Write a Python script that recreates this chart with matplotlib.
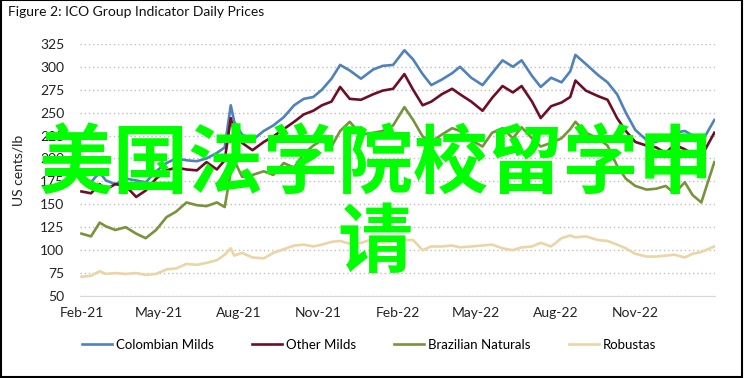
import pandas as pd
import matplotlib
matplotlib.use('Agg')
import matplotlib.pyplot as plt
import matplotlib.dates as mdates
from matplotlib.patches import Rectangle

dates = pd.to_datetime([
    '2021-02-01', '2021-02-12', '2021-02-22', '2021-03-01', '2021-03-12', '2021-03-24',
    '2021-04-05', '2021-04-16', '2021-04-28', '2021-05-10', '2021-05-21', '2021-06-02',
    '2021-06-14', '2021-06-25', '2021-07-07', '2021-07-16', '2021-07-23', '2021-07-27',
    '2021-08-05', '2021-08-17', '2021-08-30', '2021-09-10', '2021-09-22', '2021-10-04',
    '2021-10-15', '2021-10-26', '2021-11-05', '2021-11-16', '2021-11-26', '2021-12-07',
    '2021-12-20', '2022-01-03', '2022-01-14', '2022-01-26', '2022-02-08', '2022-02-18',
    '2022-03-01', '2022-03-11', '2022-03-23', '2022-04-04', '2022-04-13', '2022-04-26',
    '2022-05-09', '2022-05-20', '2022-06-01', '2022-06-13', '2022-06-23', '2022-07-05',
    '2022-07-15', '2022-07-27', '2022-08-08', '2022-08-18', '2022-08-24', '2022-09-05',
    '2022-09-19', '2022-09-30', '2022-10-11', '2022-10-21', '2022-11-01', '2022-11-14',
    '2022-11-25', '2022-12-06', '2022-12-16', '2022-12-28', '2023-01-06', '2023-01-16',
    '2023-01-31'])

colombian = [175, 174, 185, 176, 172, 178, 176, 174, 186, 195, 200, 198,
             197, 200, 206, 212, 258, 240, 226, 220, 230, 236, 245, 258,
             265, 267, 275, 287, 302, 296, 287, 297, 301, 302, 318, 308,
             292, 280, 286, 293, 300, 288, 280, 293, 307, 300, 307, 290,
             278, 288, 283, 295, 313, 303, 291, 283, 270, 250, 231, 220,
             218, 223, 228, 230, 225, 217, 242]

other_milds = [164, 162, 172, 166, 172, 170, 158, 165, 178, 187, 190, 188,
               187, 196, 188, 198, 244, 228, 217, 209, 218, 224, 232, 240,
               248, 252, 258, 262, 278, 265, 264, 270, 274, 276, 292, 275,
               258, 262, 270, 276, 270, 262, 252, 266, 279, 272, 279, 262,
               244, 257, 261, 267, 285, 274, 268, 264, 244, 230, 218, 214,
               212, 206, 215, 210, 205, 202, 228]

brazilian = [118, 115, 130, 126, 122, 125, 118, 113, 122, 136, 142, 152,
             149, 148, 152, 147, 185, 198, 180, 182, 186, 182, 195, 190,
             205, 214, 220, 213, 230, 240, 226, 228, 230, 236, 256, 242,
             224, 218, 226, 233, 230, 220, 213, 228, 233, 222, 234, 222,
             213, 217, 222, 232, 240, 228, 222, 214, 192, 178, 170, 166,
             167, 170, 162, 174, 160, 152, 196]

robustas = [71, 72, 77, 74, 75, 74, 75, 73, 74, 79, 80, 85,
            84, 86, 89, 95, 102, 94, 97, 92, 91, 97, 101, 105,
            106, 104, 106, 109, 110, 107, 108, 112, 108, 110, 111, 111,
            100, 104, 104, 105, 103, 104, 105, 106, 102, 100, 103, 104,
            108, 104, 113, 116, 114, 115, 111, 110, 106, 102, 96, 93,
            93, 94, 95, 92, 96, 98, 104]

tick_dates = pd.to_datetime(['2021-02-01', '2021-05-01', '2021-08-01', '2021-11-01',
                             '2022-02-01', '2022-05-01', '2022-08-01', '2022-11-01'])

series = [('Colombian Milds', colombian, '#4F81BD'),
          ('Other Milds', other_milds, '#6E0E26'),
          ('Brazilian Naturals', brazilian, '#77933C'),
          ('Robustas', robustas, '#EBD5A5')]

plt.rcParams['font.family'] = ['Lato', 'DejaVu Sans']

fig = plt.figure(figsize=(7.45, 3.78), dpi=100)
ax = fig.add_axes([0.107, 0.217, 0.853, 0.667])

for name, vals, col in series:
    ax.plot(dates, vals, color=col, lw=1.9, label=name)

ax.set_ylim(50, 325)
ax.set_yticks(range(50, 326, 25))
ax.set_xlim(pd.Timestamp('2021-01-30'), pd.Timestamp('2023-02-01'))
ax.set_xticks(tick_dates)
ax.xaxis.set_major_formatter(mdates.DateFormatter('%b-%y'))
ax.grid(axis='y', color='#BFBFBF', linestyle=(0, (1, 2)), lw=1)
ax.set_axisbelow(True)
for s in ['top', 'right', 'left']:
    ax.spines[s].set_visible(False)
ax.spines['bottom'].set_color('#D9D9D9')
ax.tick_params(length=0, labelsize=10, colors='#222222', pad=8)
ax.tick_params(axis='y', pad=11)
ax.set_ylabel('US cents/lb', fontsize=10, color='#222222', labelpad=11)

fig.text(0.011, 0.968, 'Figure 2: ICO Group Indicator Daily Prices', fontsize=10,
         va='center', ha='left', color='#111111')

fig.legend(loc='center', bbox_to_anchor=(0.495, 0.087), ncol=4, frameon=False,
           fontsize=9.5, handlelength=2.27, handletextpad=0.3, columnspacing=2.9)

fig.patches.append(Rectangle((0.001, 0.003), 0.995, 0.996, transform=fig.transFigure,
                             fill=False, edgecolor='black', lw=1.5))

wm = ['Noto Sans CJK SC', 'DejaVu Sans']
fig.text(0.505, 0.562, '美国法学院校留学申', fontsize=54, color='#00FF00',
         family=wm, fontweight='bold', ha='center', va='center')
fig.text(0.503, 0.355, '请', fontsize=54, color='#00FF00',
         family=wm, fontweight='bold', ha='center', va='center')

fig.savefig('out.png', dpi=100)
